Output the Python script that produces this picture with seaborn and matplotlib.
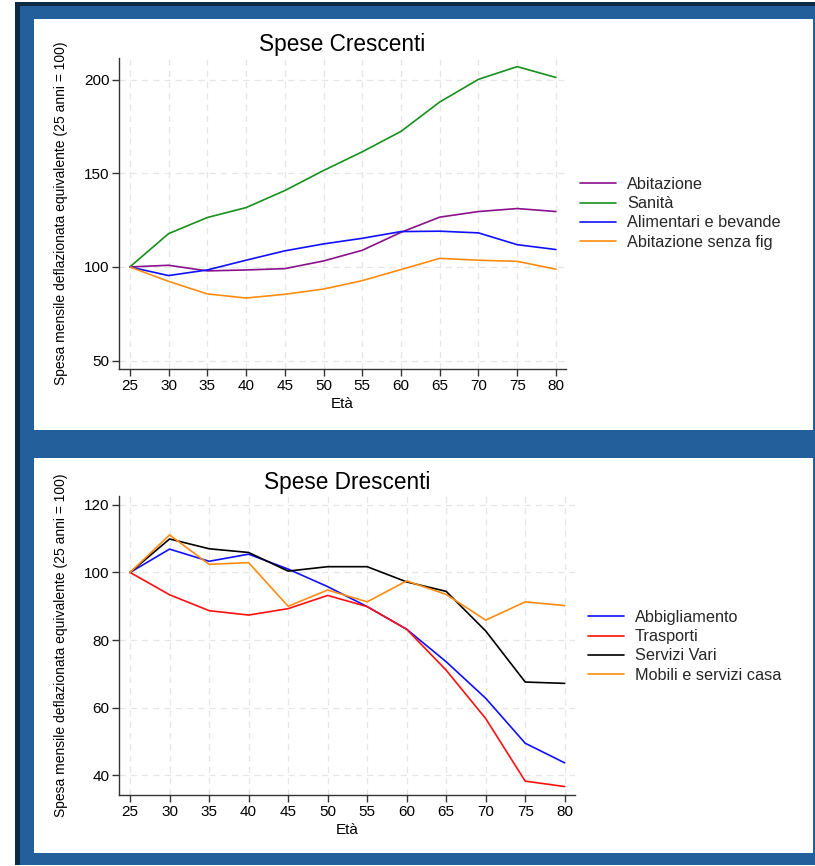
import numpy as np
import pandas as pd
import seaborn as sns
import matplotlib
matplotlib.use("Agg")
import matplotlib.pyplot as plt
from matplotlib.patches import Rectangle

# ---------------- data ----------------
eta = [25, 30, 35, 40, 45, 50, 55, 60, 65, 70, 75, 80]

abitazione = [100, 100.9, 97.9, 98.4, 99.1, 103.2, 108.9, 118.5, 126.6, 129.6, 131.2, 129.6]
sanita = [100, 117.8, 126.4, 131.7, 140.8, 151.5, 161.5, 172.4, 188.1, 200.2, 207.0, 201.2]
alimentari = [100, 95.4, 98.4, 103.6, 108.6, 112.3, 115.3, 118.9, 119.1, 118.2, 111.9, 109.3]
abit_senza_fig = [100, 92.3, 85.6, 83.4, 85.4, 88.2, 92.7, 98.6, 104.6, 103.6, 103.0, 98.8]

abbigliamento = [100, 106.9, 103.3, 105.4, 101.0, 95.8, 89.9, 83.2, 73.6, 62.8, 49.5, 43.7]
trasporti = [100, 93.4, 88.7, 87.4, 89.3, 93.2, 89.9, 83.2, 71.1, 56.8, 38.3, 36.7]
servizi_vari = [100, 109.9, 107.0, 105.9, 100.4, 101.7, 101.7, 97.2, 94.4, 82.7, 67.6, 67.2]
mobili = [100, 111.1, 102.4, 102.9, 90.0, 94.8, 91.3, 97.5, 93.5, 85.9, 91.3, 90.2]

top_names = ["Abitazione", "Sanità", "Alimentari e bevande", "Abitazione senza fig"]
top_series = [abitazione, sanita, alimentari, abit_senza_fig]
top_colors = ["#8b108b", "#17901d", "#1010ff", "#ff8c10"]

bot_names = ["Abbigliamento", "Trasporti", "Servizi Vari", "Mobili e servizi casa"]
bot_series = [abbigliamento, trasporti, servizi_vari, mobili]
bot_colors = ["#1010ff", "#ff1010", "#000000", "#ff8c10"]

top_yticks = [50, 100, 150, 200]
bot_yticks = [40, 60, 80, 100, 120]

def long_df(names, series):
    rows = []
    for n, s in zip(names, series):
        for x, v in zip(eta, s):
            rows.append({"Età": x, "val": v, "serie": n})
    return pd.DataFrame(rows)

# ---------------- figure ----------------
sns.set_theme(style="white")
plt.rcParams["font.family"] = ["Liberation Sans", "DejaVu Sans"]

W, H = 815, 866
fig = plt.figure(figsize=(W / 100, H / 100), dpi=100)
fig.patch.set_facecolor("white")

def px_rect(x0, y0, x1, y1, color):
    fig.patches.append(Rectangle((x0 / W, 1 - y1 / H), (x1 - x0) / W, (y1 - y0) / H,
                                 transform=fig.transFigure, facecolor=color,
                                 edgecolor="none", zorder=-10))

blue = "#225f9b"
navy = "#0c2a44"
px_rect(15, 2, 815, 865, blue)
px_rect(15, 2, 20, 865, navy)
px_rect(15, 2, 815, 6, navy)
px_rect(34, 19, 813, 430, "white")
px_rect(34, 458, 813, 853, "white")

def ax_from_px(l, t, r, b):
    return fig.add_axes([l / W, 1 - b / H, (r - l) / W, (b - t) / H])

def style_ax(ax, title, yticks, ylim):
    ax.set_facecolor("none")
    ax.set_xlim(23.6, 81.3)
    ax.set_ylim(*ylim)
    ax.set_xticks(eta)
    ax.set_yticks(yticks)
    ax.grid(True, color="#e6e6e6", linestyle=(0, (5, 4)), linewidth=0.9)
    for s in ["top", "right"]:
        ax.spines[s].set_visible(False)
    for s in ["left", "bottom"]:
        ax.spines[s].set_color("#333333")
        ax.spines[s].set_linewidth(1.0)
    ax.tick_params(axis="both", direction="out", length=5, width=1.0, color="#333333",
                   labelsize=11, labelcolor="black", pad=2, left=True, bottom=True)
    ax.set_title(title, fontsize=16.3, pad=5, color="black")
    ax.set_xlabel("Età", fontsize=11, labelpad=3, color="black")
    ax.set_ylabel("Spesa mensile deflazionata equivalente (25 anni = 100)",
                  fontsize=10, labelpad=11, color="black")

leg_kw = dict(loc="upper left", frameon=False, fontsize=11.7, handlelength=2.2,
              handletextpad=0.7, labelspacing=0.26, borderaxespad=0, borderpad=0)

# top chart
ax1 = ax_from_px(119, 58, 566, 369)
df1 = long_df(top_names, top_series)
sns.lineplot(data=df1, x="Età", y="val", hue="serie", hue_order=top_names,
             palette=top_colors, linewidth=1.2, ax=ax1, legend=True)
style_ax(ax1, "Spese Crescenti", top_yticks, (45.5, 211.6))
ax1.legend(bbox_to_anchor=((580 - 119) / 447, (369 - 177) / 311), **leg_kw)

# bottom chart
ax2 = ax_from_px(119, 496, 575, 795)
df2 = long_df(bot_names, bot_series)
sns.lineplot(data=df2, x="Età", y="val", hue="serie", hue_order=bot_names,
             palette=bot_colors, linewidth=1.2, ax=ax2, legend=True)
style_ax(ax2, "Spese Drescenti", bot_yticks, (34.2, 122.6))
ax2.legend(bbox_to_anchor=((588 - 119) / 456, (795 - 610) / 299), **leg_kw)

fig.savefig("out.png", dpi=100)
